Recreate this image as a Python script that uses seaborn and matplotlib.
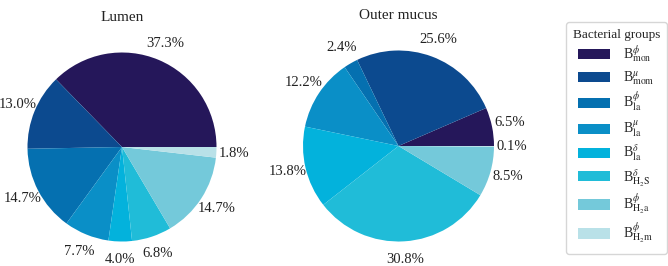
import matplotlib
matplotlib.use("Agg")
import matplotlib.pyplot as plt
import seaborn as sns

# data
groups = [r"B$^{\phi}_{\rm mon}$", r"B$^{\mu}_{\rm mom}$", r"B$^{\phi}_{\rm la}$", r"B$^{\mu}_{\rm la}$",
          r"B$^{\delta}_{\rm la}$", r"B$^{\delta}_{\rm H_2S}$", r"B$^{\phi}_{\rm H_2a}$", r"B$^{\phi}_{\rm H_2m}$"]
lumen = [37.3, 13.0, 14.7, 7.7, 4.0, 6.8, 14.7, 1.8]
outer_mucus = [6.5, 25.6, 2.4, 12.2, 13.8, 30.8, 8.5, 0.1]
panel_titles = ["Lumen", "Outer mucus"]
colors = ["#25175a", "#0c4a8f", "#0570b0", "#0a8fc7", "#03b2dc", "#20bcd8", "#74c9da", "#b9e1e8"]

sns.set_theme(style="white")
plt.rcParams["font.family"] = ["Liberation Serif", "DejaVu Serif"]
plt.rcParams["mathtext.fontset"] = "stix"

fig = plt.figure(figsize=(6.68, 2.66), dpi=100)
ax1 = fig.add_axes([(122 - 94.5) / 668, (266 - 147 - 94.5) / 266, 189 / 668, 189 / 266])
ax2 = fig.add_axes([(398.5 - 95.5) / 668, (266 - 146 - 95.5) / 266, 191 / 668, 191 / 266])

for ax, vals, ttl in zip([ax1, ax2], [lumen, outer_mucus], panel_titles):
    wedges, texts, autotexts = ax.pie(vals, colors=colors, startangle=0, counterclock=True,
                                      autopct="%.1f%%", pctdistance=1.19,
                                      wedgeprops=dict(linewidth=0),
                                      textprops=dict(fontsize=10.5, color="#222222"))
    ax.set_xlim(-1, 1)
    ax.set_ylim(-1, 1)
    ax.set_aspect("equal")
    ax.set_title(ttl, fontsize=11, pad=23, color="#222222")

leg = fig.legend(wedges, groups, title="Bacterial groups", loc="upper right",
                 bbox_to_anchor=(0.9985, 0.918), fontsize=10, title_fontsize=9.5,
                 handlelength=2.3, handleheight=0.75, labelspacing=0.22, handletextpad=0.9,
                 borderpad=0.5, borderaxespad=0, frameon=True, edgecolor="#cccccc", fancybox=True)

fig.savefig("out.png", dpi=100)
